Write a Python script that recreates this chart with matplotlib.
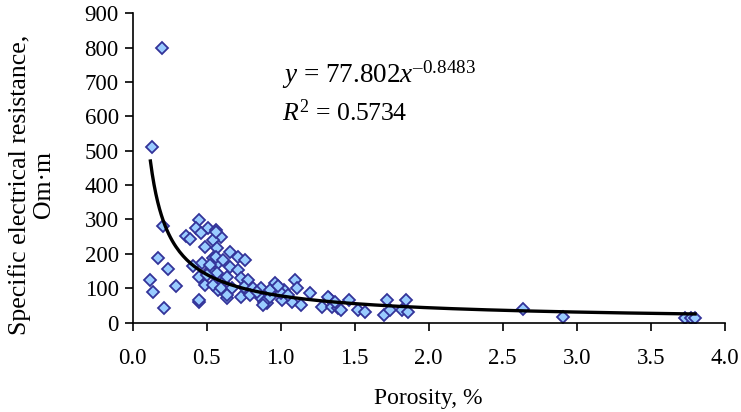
import matplotlib
matplotlib.use("Agg")
import matplotlib.pyplot as plt
import numpy as np

plt.rcParams['font.family'] = ['Liberation Serif', 'DejaVu Serif']
plt.rcParams['mathtext.fontset'] = 'custom'
plt.rcParams['mathtext.rm'] = 'Liberation Serif'
plt.rcParams['mathtext.it'] = 'Liberation Serif:italic'

# measured samples: porosity (%) and specific electrical resistance (Om*m)
porosity = [0.13, 0.20, 0.205, 0.17, 0.24, 0.12, 0.14, 0.29, 0.21, 0.45,
            0.36, 0.39, 0.45, 0.43, 0.51, 0.46, 0.56, 0.60, 0.54, 0.49,
            0.57, 0.41, 0.47, 0.54, 0.52, 0.58, 0.45, 0.49, 0.57, 0.61,
            0.58, 0.64, 0.56, 0.66, 0.71, 0.56, 0.61, 0.76, 0.52, 0.66,
            0.71, 0.50, 0.64, 0.73, 0.78, 0.54, 0.60, 0.67, 0.75, 0.81,
            0.64, 0.73, 0.79, 0.87, 0.91, 0.45, 0.87, 0.96, 0.89, 1.02,
            0.93, 1.10, 1.11, 1.20, 1.08, 1.14, 1.28, 1.33, 1.35, 1.39,
            1.01, 1.32, 1.37, 1.46, 1.41, 1.52, 1.57, 1.72, 1.70, 1.74,
            1.82, 1.85, 1.86, 2.64, 2.91, 3.73, 3.77, 3.80,
            0.93, 1.00, 0.88, 0.84, 0.98, 1.05]
resistance = [511, 800, 281, 188, 156, 124, 89, 107, 43, 60,
              252, 243, 299, 275, 275, 261, 269, 249, 240, 220,
              217, 165, 173, 188, 153, 173, 133, 110, 144, 118,
              95, 72, 264, 206, 191, 191, 182, 182, 168, 162,
              153, 139, 133, 130, 124, 110, 101, 101, 104, 101,
              80, 75, 80, 72, 57, 66, 101, 115, 60, 95,
              75, 124, 101, 86, 60, 52, 45, 72, 45, 43,
              66, 75, 60, 66, 37, 37, 31, 66, 22, 37,
              37, 66, 31, 40, 16, 14, 14, 14,
              95, 86, 52, 90, 105, 80]

# power trend y = a * x^b
a, b = 77.802, -0.8483
trend_x = np.linspace(0.12, 3.8, 300)
trend_y = a * trend_x ** b

fig = plt.figure(figsize=(7.41, 4.12), dpi=100)
ax = fig.add_axes([0.179, 0.217, 0.799, 0.751])

ax.plot(porosity, resistance, linestyle='none', marker='D', markersize=6.5,
        markerfacecolor='#99CCFF', markeredgecolor='#333399', markeredgewidth=1.3)
ax.plot(trend_x, trend_y, color='black', linewidth=2.4)

ax.set_xlim(0, 4.0)
ax.set_ylim(0, 900)
ax.set_xticks(np.arange(0, 4.01, 0.5))
ax.set_xticklabels([f"{v:.1f}" for v in np.arange(0, 4.01, 0.5)])
ax.set_yticks(np.arange(0, 901, 100))
ax.tick_params(direction='out', length=6, width=1.2, labelsize=16.5, pad=4)
ax.tick_params(axis='x', pad=12)
for s in ['top', 'right']:
    ax.spines[s].set_visible(False)
for s in ['left', 'bottom']:
    ax.spines[s].set_linewidth(1.2)

ax.set_xlabel("Porosity, %", fontsize=17, labelpad=14)
ax.set_ylabel("Specific electrical resistance,\nOm\u00b7m", fontsize=18.5,
              linespacing=1.1)
ax.yaxis.set_label_coords(-0.131, 0.445)

ax.text(1.01, 722, "$y$ = 77.802$x^{\u20130.8483}$", fontsize=19.5, va='center')
ax.text(1.01, 610, "$R^2$ = 0.5734", fontsize=18.5, va='center')

fig.savefig("out.png", dpi=100)
